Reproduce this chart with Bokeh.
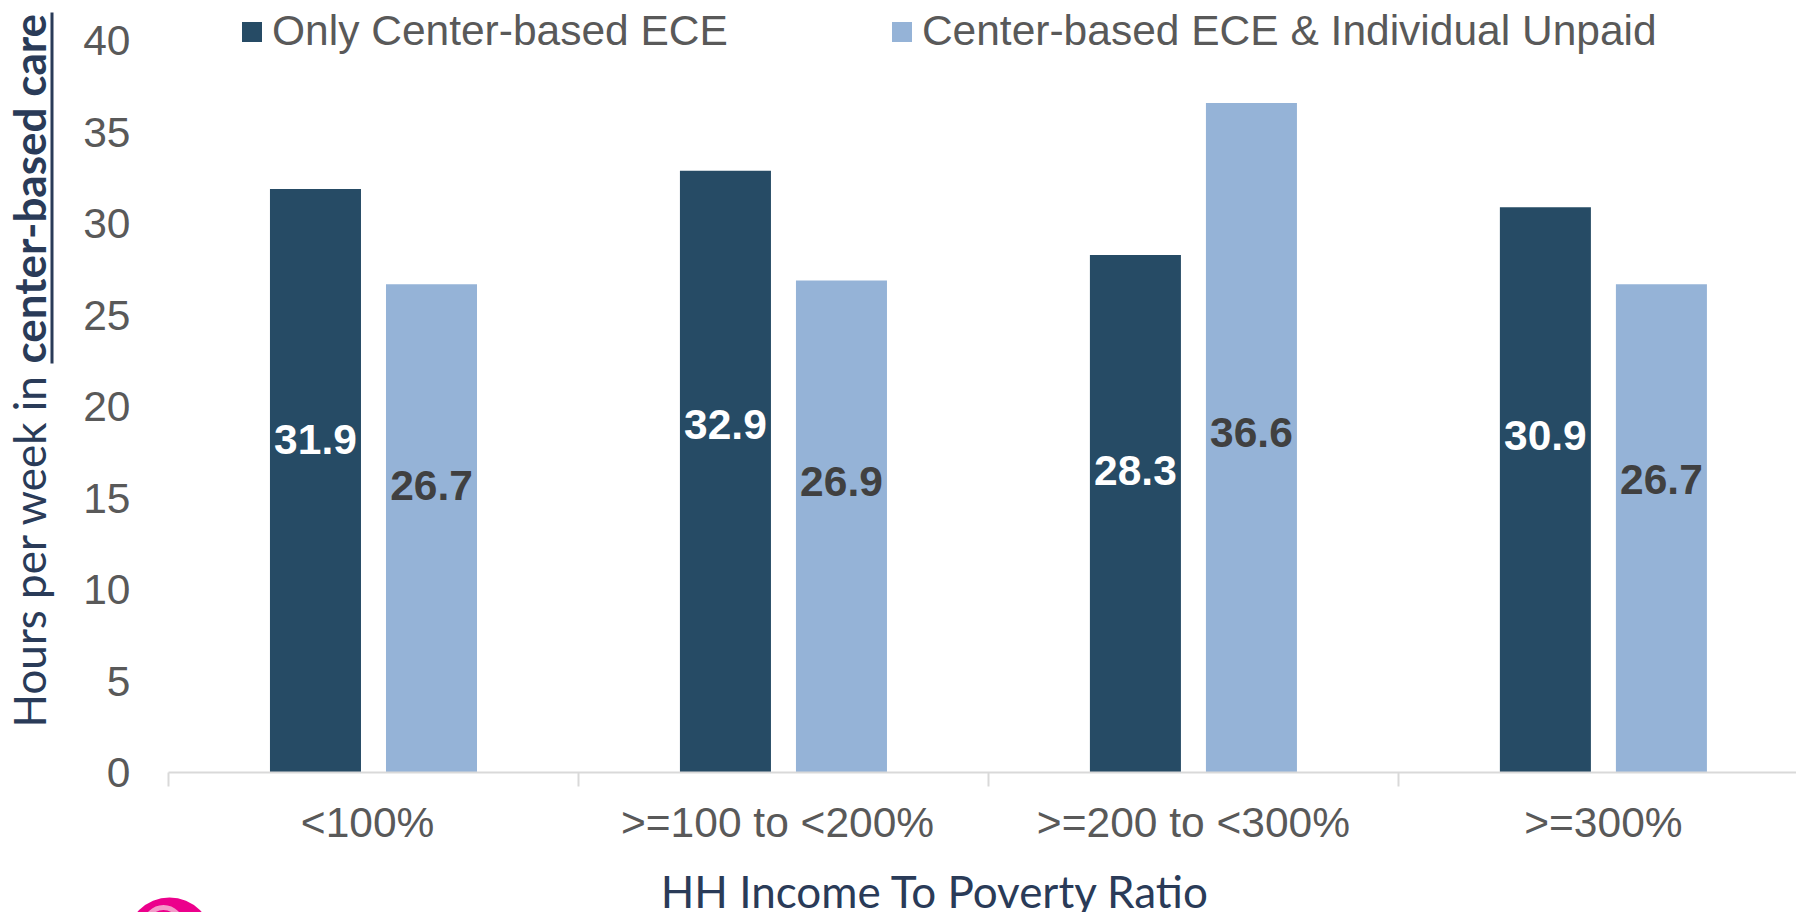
import math
from bokeh.plotting import figure
from bokeh.layouts import row, column
from bokeh.models import (Range1d, FixedTicker, ColumnDataSource, Label, LabelSet,
                          Legend, LegendItem, BoxAnnotation)
from bokeh.core.properties import value
from bokeh.embed import file_html
from bokeh.resources import INLINE

# ---- data ----
categories = ["<100%", ">=100 to <200%", ">=200 to <300%", ">=300%"]
series_names = ["Only Center-based ECE", "Center-based ECE & Individual Unpaid"]
only_center = [31.9, 32.9, 28.3, 30.9]
center_unpaid = [26.7, 26.9, 36.6, 26.7]
y_ticks = [0, 5, 10, 15, 20, 25, 30, 35, 40]
# vertical positions of the data labels as placed in the source chart (data units)
label_y_only = [18.2, 19.0, 16.5, 18.4]
label_y_unpaid = [15.7, 15.9, 18.6, 16.0]
y_title_plain = "Hours per week in"
y_title_bold = "center-based care"
x_title = "HH Income To Poverty Ratio"

# ---- styles ----
DARK = "#264B65"
LIGHT = "#95B3D7"
TXT = "#595959"
NAVY = "#2A3B58"
FONT = "Liberation Sans"
TFONT = "Lato"
FS = "42.5px"

BAR_W = 0.222
OFF = 0.1415

centers = [i + 0.5 for i in range(len(categories))]
x_only = [c - OFF for c in centers]
x_unpaid = [c + OFF for c in centers]
# the first two category labels carry a trailing space in the source chart
tick_text = [categories[0] + "\u00a0", categories[1] + "\u00a0",
             categories[2], categories[3]]

# ---------------- main chart ----------------
p = figure(width=1736, height=862, output_backend="svg", toolbar_location=None,
           x_range=Range1d(0, 3.971), y_range=Range1d(0, 42.21),
           min_border_left=108, min_border_right=0, min_border_top=0,
           min_border_bottom=90, frame_align=False)
p.outline_line_color = None
p.xgrid.visible = False
p.ygrid.visible = False
p.background_fill_color = "white"
p.border_fill_color = "white"

src_only = ColumnDataSource(dict(x=x_only, top=only_center, ly=label_y_only,
                                 txt=[f"{v:.1f}" for v in only_center]))
src_unp = ColumnDataSource(dict(x=x_unpaid, top=center_unpaid, ly=label_y_unpaid,
                                txt=[f"{v:.1f}" for v in center_unpaid]))

r1 = p.vbar(x="x", top="top", width=BAR_W, source=src_only,
            fill_color=DARK, line_color=None)
r2 = p.vbar(x="x", top="top", width=BAR_W, source=src_unp,
            fill_color=LIGHT, line_color=None)

p.add_layout(LabelSet(x="x", y="ly", text="txt", source=src_only,
                      text_align="center", text_baseline="middle",
                      text_font=value(FONT), text_font_size=FS,
                      text_font_style="bold", text_color="white"))
p.add_layout(LabelSet(x="x", y="ly", text="txt", source=src_unp,
                      text_align="center", text_baseline="middle",
                      text_font=value(FONT), text_font_size=FS,
                      text_font_style="bold", text_color="#404040"))

# x axis
xa = p.xaxis[0]
xa.ticker = FixedTicker(ticks=centers, minor_ticks=list(range(len(categories))))
xa.major_label_overrides = {c: lab for c, lab in zip(centers, tick_text)}
xa.axis_line_color = "#D9D9D9"
xa.axis_line_width = 2
xa.major_tick_line_color = None
xa.major_tick_out = 0
xa.major_tick_in = 0
xa.minor_tick_line_color = "#D9D9D9"
xa.minor_tick_line_width = 2
xa.minor_tick_out = 14
xa.minor_tick_in = 0
xa.major_label_text_font = FONT
xa.major_label_text_font_size = FS
xa.major_label_text_color = TXT
xa.major_label_standoff = 12

# y axis
ya = p.yaxis[0]
ya.ticker = FixedTicker(ticks=y_ticks)
ya.axis_line_color = None
ya.major_tick_line_color = None
ya.minor_tick_line_color = None
ya.major_tick_out = 0
ya.major_tick_in = 0
ya.minor_tick_out = 0
ya.minor_tick_in = 0
ya.major_label_text_font = FONT
ya.major_label_text_font_size = FS
ya.major_label_text_color = TXT
ya.major_label_standoff = 38

# legend
legend = Legend(items=[LegendItem(label=series_names[0], renderers=[r1]),
                       LegendItem(label=series_names[1], renderers=[r2])],
                location=(71, 717), orientation="horizontal",
                glyph_width=25, glyph_height=25, label_standoff=8, spacing=161,
                padding=0, margin=0, border_line_color=None,
                background_fill_alpha=0,
                label_text_font=FONT, label_text_font_size=FS,
                label_text_color=TXT)
p.add_layout(legend, "center")

# ---------------- y title strip (left) ----------------
ft = figure(width=60, height=912, output_backend="svg", toolbar_location=None,
            x_range=Range1d(0, 60), y_range=Range1d(0, 912),
            x_axis_type=None, y_axis_type=None,
            min_border_left=0, min_border_right=0, min_border_top=0,
            min_border_bottom=0, frame_align=False)
ft.outline_line_color = None
ft.grid.visible = False
ft.background_fill_color = "white"
ft.border_fill_color = "white"
ft.add_layout(Label(x=28, y=185, text=y_title_plain, angle=math.pi / 2,
                    text_align="left", text_baseline="alphabetic",
                    text_font=TFONT, text_font_size="44px", text_color=NAVY))
ft.add_layout(Label(x=28, y=549, text=y_title_bold, angle=math.pi / 2,
                    text_align="left", text_baseline="alphabetic",
                    text_font=TFONT, text_font_size="44px",
                    text_font_style="bold", text_color=NAVY))
ft.add_layout(BoxAnnotation(left=50, right=53, bottom=549, top=900,
                            fill_color=NAVY, fill_alpha=1, line_color=None))

# ---------------- x title strip (bottom) ----------------
fb = figure(width=1736, height=50, output_backend="svg", toolbar_location=None,
            x_range=Range1d(60, 1796), y_range=Range1d(0, 50),
            x_axis_type=None, y_axis_type=None,
            min_border_left=0, min_border_right=0, min_border_top=0,
            min_border_bottom=0, frame_align=False)
fb.outline_line_color = None
fb.grid.visible = False
fb.background_fill_color = "white"
fb.border_fill_color = "white"
fb.add_layout(Label(x=935, y=22, text=x_title, text_align="center",
                    text_baseline="alphabetic", text_font=TFONT,
                    text_font_size="44px", text_color=NAVY))
# pink logo fragment
fb.circle(x=[169], y=[-28], radius=43, fill_color="#EC008C", line_color=None)
fb.circle(x=[163], y=[-13], radius=18, fill_color=None, line_color="#F49AC9",
          line_width=5)

layout = row(ft, column(p, fb))
open("out.html", "w").write(file_html(layout, INLINE))
